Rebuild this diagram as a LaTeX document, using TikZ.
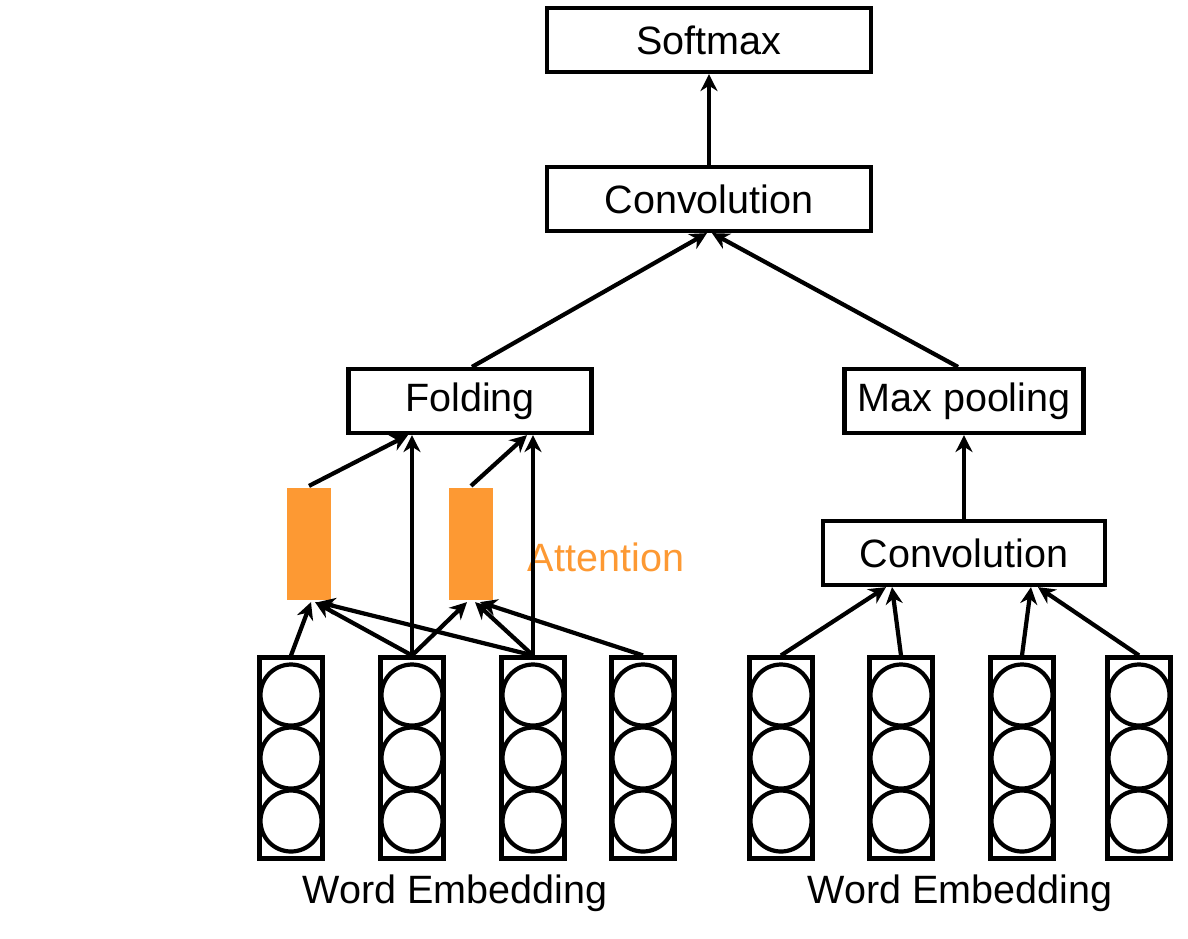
\documentclass[tikz,border=0pt]{standalone}
\usepackage{fontspec}
\setmainfont{Liberation Sans}
\usepackage{tikz}
\usetikzlibrary{arrows.meta,calc}
\definecolor{attn}{RGB}{253,153,51}

\begin{document}
\begin{tikzpicture}[x=0.02cm, y=-0.02cm, line width=2.4pt,
    font=\fontsize{22.5}{27}\selectfont,
    box/.style = {draw, minimum height=1.28cm, inner sep=0pt},
    att/.style = {fill=attn, minimum width=0.88cm, minimum height=2.24cm, inner sep=0pt},
    col/.style = {draw, minimum width=1.26cm, minimum height=4.02cm, inner sep=0pt},
    unit/.style = {draw, circle, minimum size=1.22cm, inner sep=0pt},
    arr/.style = {-{Stealth[length=3.4mm,width=3.4mm,inset=1.1mm]}}]
    \useasboundingbox (0,0) rectangle (1188,938);
    \node[box, minimum width=6.48cm] (soft) at (709,40) {Softmax};
    \node[box, minimum width=6.48cm] (conv) at (709,199) {Convolution};
    \node[box, minimum width=4.86cm] (fold) at (470,401) {Folding};
    \node[box, minimum width=4.78cm] (pool) at (964,401) {Max pooling};
    \node[box, minimum width=5.64cm] (conv2) at (964,553) {Convolution};
    \node[att] (a1) at (309,544) {};
    \node[att] (a2) at (471,544) {};
    \node[text=attn] (attlabel) at (606,557) {Attention};
    \foreach \i/\x in {1/291, 2/412, 3/533, 4/643} {
      \node[col] (e\i) at (\x,758) {};
      \foreach \j/\y in {a/-63, b/0, c/63}
        \node[unit] (e\i\j) at ($(e\i)+(0,\y)$) {};
    }
    \foreach \i/\x in {1/781, 2/901, 3/1022, 4/1139} {
      \node[col] (r\i) at (\x,758) {};
      \foreach \j/\y in {a/-63, b/0, c/63}
        \node[unit] (r\i\j) at ($(r\i)+(0,\y)$) {};
    }
    \node (wl) at (455,893) {Word Embedding};
    \node (wr) at (960,893) {Word Embedding};
    \draw[arr] (conv) -- (soft);
    \draw[arr] ($(fold.north)+(2,0)$) -- ($(conv.south)+(-2,0)$);
    \draw[arr] ($(pool.north)+(-6,0)$) -- ($(conv.south)+(3,0)$);
    \draw[arr] (conv2) -- (pool);
    \draw[arr] (a1.north) -- ($(fold.south)+(-62,0)$);
    \draw[arr] (e2.north) -- (e2.north |- fold.south);
    \draw[arr] (a2.north) -- ($(fold.south)+(57,0)$);
    \draw[arr] (e3.north) -- (e3.north |- fold.south);
    \draw[arr] (e1.north) -- ($(a1.south)+(2,0)$);
    \draw[arr] (e2.north) -- ($(a1.south)+(6,0)$);
    \draw[arr] (e3.north) -- ($(a1.south)+(9,0)$);
    \draw[arr] (e2.north) -- ($(a2.south)+(-4,0)$);
    \draw[arr] (e3.north) -- ($(a2.south)+(4,0)$);
    \draw[arr] (e4.north) -- ($(a2.south)+(9,0)$);
    \draw[arr] (r1.north) -- ($(conv2.south)+(-78,0)$);
    \draw[arr] (r2.north) -- ($(conv2.south)+(-72,0)$);
    \draw[arr] (r3.north) -- ($(conv2.south)+(67,0)$);
    \draw[arr] (r4.north) -- ($(conv2.south)+(74,0)$);
\end{tikzpicture}
\end{document}
